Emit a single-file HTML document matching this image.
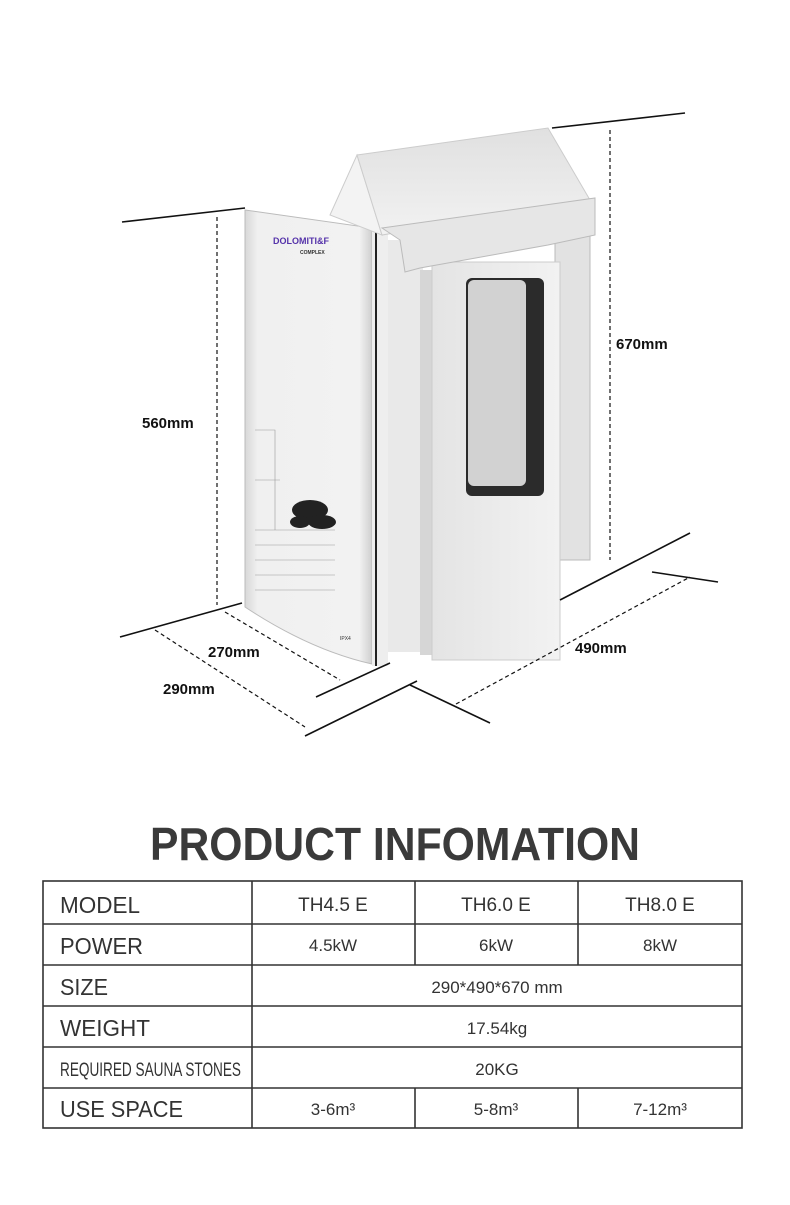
<!DOCTYPE html>
<html><head><meta charset="utf-8"><style>
body{margin:0;background:#fff;width:790px;height:1200px;overflow:hidden;font-family:"Liberation Sans",sans-serif}
</style></head><body>
<svg width="790" height="1200" viewBox="0 0 790 1200" xmlns="http://www.w3.org/2000/svg">
<defs>
<linearGradient id="fp" x1="0" x2="1"><stop offset="0" stop-color="#d8d8d8"/><stop offset="0.1" stop-color="#f0f0f0"/><stop offset="0.9" stop-color="#f2f2f2"/><stop offset="1" stop-color="#cfcfcf"/></linearGradient>
<linearGradient id="rp" x1="0" x2="1"><stop offset="0" stop-color="#e4e4e4"/><stop offset="1" stop-color="#f2f2f2"/></linearGradient>
<linearGradient id="roof" x1="0" y1="0" x2="0" y2="1"><stop offset="0" stop-color="#e0e0e0"/><stop offset="1" stop-color="#f2f2f2"/></linearGradient>
</defs>
<rect x="555" y="228" width="35" height="332" fill="#e2e2e2" stroke="#bbb"/>
<rect x="388" y="240" width="35" height="412" fill="#e9e9e9"/>
<rect x="420" y="270" width="14" height="385" fill="#d6d6d6"/>
<rect x="432" y="262" width="128" height="398" fill="url(#rp)" stroke="#ccc"/>
<rect x="466" y="278" width="78" height="218" rx="6" fill="#2b2b2b"/>
<rect x="468" y="280" width="58" height="206" rx="6" fill="#d2d2d2"/>
<path d="M245 210 L372 228 L372 664 Q310 650 245 607 Z" fill="url(#fp)" stroke="#bbb"/>
<rect x="372" y="228" width="16" height="438" fill="#eee"/>
<rect x="375" y="232" width="2" height="434" fill="#222"/>
<polygon points="330,215 357,155 382,235" fill="#f3f3f3" stroke="#ccc"/>
<polygon points="357,155 548,128 590,200 382,235" fill="url(#roof)" stroke="#ccc"/>
<polygon points="382,228 595,198 595,235 548,245 420,268 405,272 400,240" fill="#e6e6e6" stroke="#bbb"/>
<text x="273" y="244" font-size="9" font-weight="bold" fill="#5533aa">DOLOMITI&amp;F</text>
<text x="300" y="254" font-size="5" font-weight="bold" fill="#333">COMPLEX</text>
<g fill="#222"><ellipse cx="310" cy="510" rx="18" ry="10"/><ellipse cx="322" cy="522" rx="14" ry="7"/><ellipse cx="300" cy="522" rx="10" ry="6"/></g>
<g stroke="#999" stroke-width="0.6" fill="none"><path d="M255 430 h20 v100 M255 480 h25 M255 530 h80 M255 545 h80 M255 560 h80 M255 575 h80 M255 590 h80"/></g>
<text x="340" y="640" font-size="5" fill="#333">IPX4</text>
<g stroke="#111" stroke-width="1.6" fill="none">
<line x1="122" y1="222" x2="245" y2="208"/>
<line x1="120" y1="637" x2="242" y2="603"/>
<line x1="552" y1="128" x2="685" y2="113"/>
<line x1="560" y1="600" x2="690" y2="533"/>
<line x1="652" y1="572" x2="718" y2="582"/>
<line x1="410" y1="685" x2="490" y2="723"/>
<line x1="316" y1="697" x2="390" y2="663"/>
<line x1="305" y1="736" x2="417" y2="681"/>
</g>
<g stroke="#111" stroke-width="1.2" fill="none" stroke-dasharray="4,3">
<line x1="217" y1="217" x2="217" y2="605"/>
<line x1="610" y1="130" x2="610" y2="560"/>
<line x1="456" y1="704" x2="690" y2="577"/>
<line x1="225" y1="612" x2="340" y2="680"/>
<line x1="155" y1="630" x2="305" y2="727"/>
</g>
<g font-size="15" font-weight="bold" fill="#111">
<text x="142" y="428">560mm</text>
<text x="616" y="349">670mm</text>
<text x="575" y="653">490mm</text>
<text x="208" y="657">270mm</text>
<text x="163" y="694">290mm</text>
</g>
<text x="150" y="860" font-size="46" font-weight="bold" fill="#3a3a3a" textLength="490" lengthAdjust="spacingAndGlyphs">PRODUCT INFOMATION</text>
<g stroke="#333" stroke-width="1.6" fill="none">
<rect x="43" y="881" width="699" height="247"/>
<line x1="43" y1="924" x2="742" y2="924"/>
<line x1="43" y1="965" x2="742" y2="965"/>
<line x1="43" y1="1006" x2="742" y2="1006"/>
<line x1="43" y1="1047" x2="742" y2="1047"/>
<line x1="43" y1="1088" x2="742" y2="1088"/>
<line x1="252" y1="881" x2="252" y2="1128"/>
<line x1="415" y1="881" x2="415" y2="965"/>
<line x1="578" y1="881" x2="578" y2="965"/>
<line x1="415" y1="1088" x2="415" y2="1128"/>
<line x1="578" y1="1088" x2="578" y2="1128"/>
</g>
<g fill="#333" font-size="23">
<text x="60" y="913" textLength="80" lengthAdjust="spacingAndGlyphs">MODEL</text>
<text x="60" y="954" textLength="83" lengthAdjust="spacingAndGlyphs">POWER</text>
<text x="60" y="995" textLength="48" lengthAdjust="spacingAndGlyphs">SIZE</text>
<text x="60" y="1036" textLength="90" lengthAdjust="spacingAndGlyphs">WEIGHT</text>
<text x="60" y="1076" font-size="19" textLength="181" lengthAdjust="spacingAndGlyphs">REQUIRED SAUNA STONES</text>
<text x="60" y="1117" textLength="123" lengthAdjust="spacingAndGlyphs">USE SPACE</text>
</g>
<g fill="#333" font-size="19" text-anchor="middle">
<text x="333" y="911">TH4.5 E</text><text x="496" y="911">TH6.0 E</text><text x="660" y="911">TH8.0 E</text>
</g>
<g fill="#333" font-size="17" text-anchor="middle">
<text x="333" y="951">4.5kW</text><text x="496" y="951">6kW</text><text x="660" y="951">8kW</text>
<text x="497" y="993">290*490*670 mm</text>
<text x="497" y="1034">17.54kg</text>
<text x="497" y="1075">20KG</text>
<text x="333" y="1115">3-6m³</text><text x="496" y="1115">5-8m³</text><text x="660" y="1115">7-12m³</text>
</g>
</svg>
</body></html>
